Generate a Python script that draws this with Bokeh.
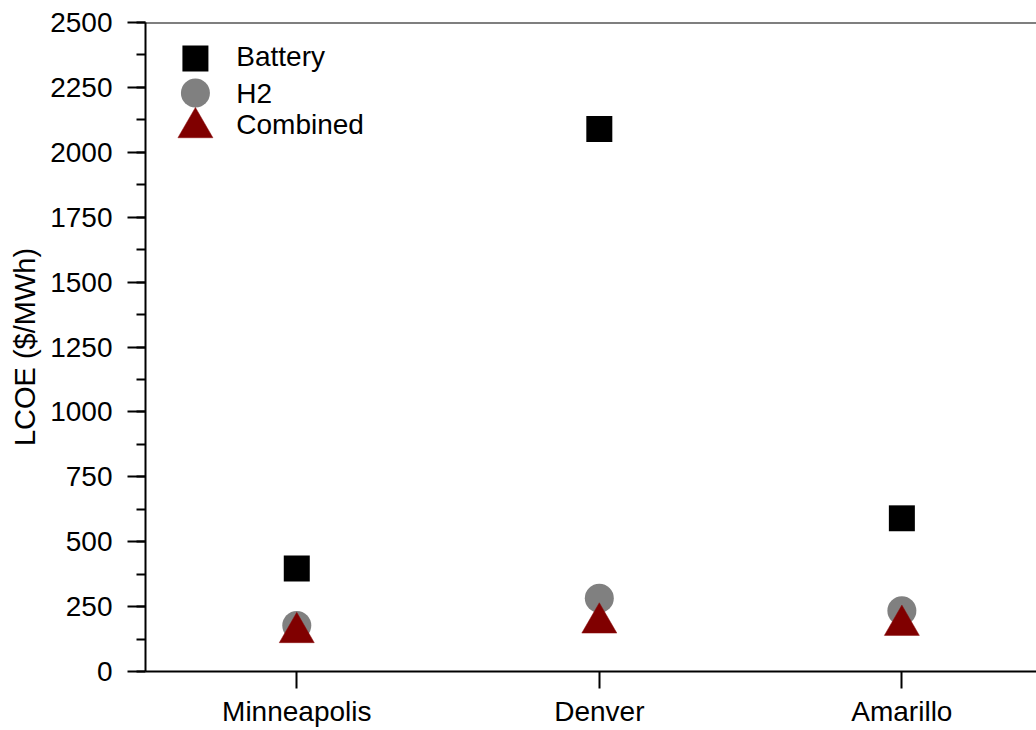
import numpy as np
from bokeh.plotting import figure
from bokeh.models import (Range1d, FixedTicker, SingleIntervalTicker, Span,
                          ColumnDataSource)
from bokeh.core.properties import value
from bokeh.embed import file_html
from bokeh.resources import INLINE

# LCOE by site and storage option ($/MWh)
cities = ["Minneapolis", "Denver", "Amarillo"]
battery = [397, 2090, 590]
h2 = [177, 282, 234]
combined = [150, 187, 178]

series_names = ["Battery", "H2", "Combined"]
y_ticks_step = 250
y_max = 2500

FONT = "Liberation Sans"
x_pos = np.arange(1, len(cities) + 1)

p = figure(width=1036, height=730, output_backend="svg", toolbar_location=None,
           x_range=Range1d(0.5, 3.445), y_range=Range1d(0, y_max),
           min_border_left=145, min_border_right=0, min_border_top=22,
           min_border_bottom=59)
p.grid.visible = False
p.outline_line_color = None
p.background_fill_color = "white"
p.border_fill_color = "white"

src = ColumnDataSource(dict(x=x_pos, battery=battery, h2=h2, combined=combined))

p.scatter("x", "battery", source=src, marker="square", size=26,
          fill_color="black", line_color=None)
p.scatter("x", "h2", source=src, marker="circle", size=29,
          fill_color="#808080", line_color=None)
p.scatter("x", "combined", source=src, marker="triangle", size=35,
          fill_color="#800000", line_color="#8a0c0c", line_width=0.5)

# legend drawn in plot space, top-left corner
leg_x_marker = 0.665
leg_x_text = 0.80
leg_y0 = 2361
leg_step = 133
leg_y = [leg_y0 - i * leg_step for i in range(len(series_names))]
p.scatter([leg_x_marker], [leg_y[0]], marker="square", size=26,
          fill_color="black", line_color=None)
p.scatter([leg_x_marker], [leg_y[1]], marker="circle", size=29,
          fill_color="#808080", line_color=None)
p.scatter([leg_x_marker], [leg_y[2]], marker="triangle", size=35,
          fill_color="#800000", line_color="#8a0c0c", line_width=0.5)
p.text(x=[leg_x_text] * 3, y=[leg_y[0] + 8, leg_y[1], leg_y[2] + 12],
       text=series_names, text_font=value(FONT), text_font_size="28px",
       text_baseline="middle", text_align="left", text_color="black")

# top frame line
p.add_layout(Span(location=y_max, dimension="width", line_color="black",
                  line_width=2))

# axes
xa = p.xaxis[0]
xa.ticker = FixedTicker(ticks=list(x_pos))
xa.major_label_overrides = {int(i): c for i, c in zip(x_pos, cities)}
xa.major_tick_out = 17
xa.major_tick_in = 0
xa.minor_tick_line_color = None
xa.axis_line_width = 2
xa.major_tick_line_width = 2
xa.axis_line_color = "black"
xa.major_tick_line_color = "black"
xa.major_label_text_font = FONT
xa.major_label_text_font_size = "28px"
xa.major_label_text_color = "black"
xa.major_label_standoff = 7

ya = p.yaxis[0]
ya.ticker = SingleIntervalTicker(interval=y_ticks_step, num_minor_ticks=2)
ya.major_tick_out = 18
ya.major_tick_in = 0
ya.minor_tick_out = 9
ya.minor_tick_in = 0
ya.axis_line_width = 2
ya.major_tick_line_width = 2
ya.minor_tick_line_width = 2
ya.axis_line_color = "black"
ya.major_tick_line_color = "black"
ya.minor_tick_line_color = "black"
ya.major_label_text_font = FONT
ya.major_label_text_font_size = "28px"
ya.major_label_text_color = "black"
ya.major_label_standoff = 15
ya.axis_label = "LCOE ($/MWh)"
ya.axis_label_text_font = FONT
ya.axis_label_text_font_size = "29px"
ya.axis_label_text_font_style = "normal"
ya.axis_label_text_color = "black"
ya.axis_label_standoff = 6

open("out.html", "w").write(file_html(p, INLINE))
